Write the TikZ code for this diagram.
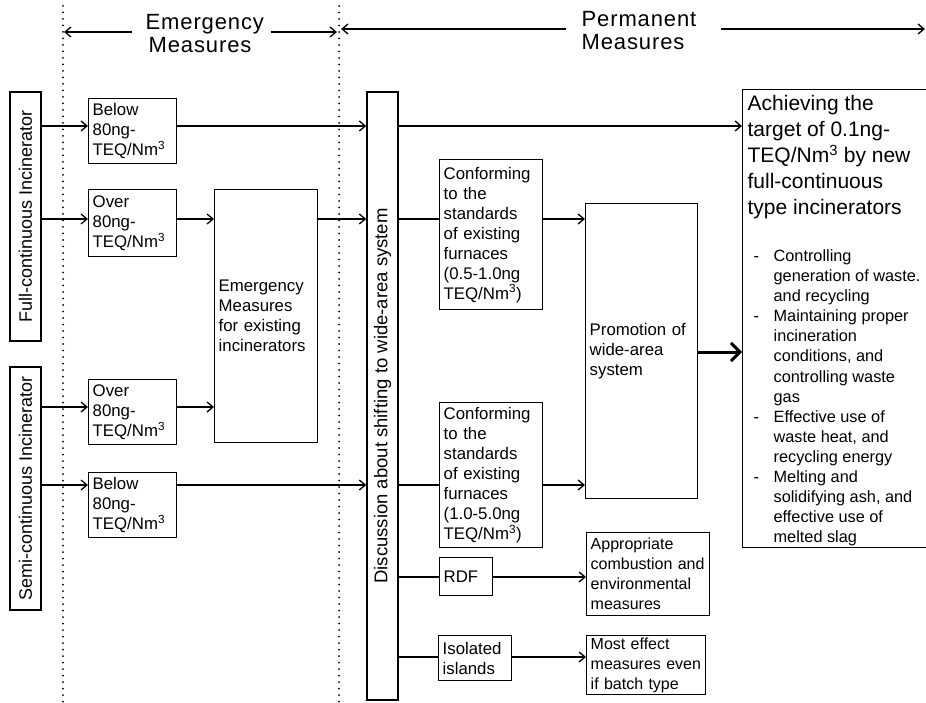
\documentclass[tikz,border=0pt]{standalone}
\usepackage{fontspec}
\setmainfont{Liberation Sans}
\newfontfamily\headfam[LetterSpace=4]{Liberation Sans}
\usetikzlibrary{arrows.meta}
\newcommand\myboxfont{\fontsize{16.8}{20}\selectfont}
\newcommand\mysmallboxfont{\fontsize{16}{20}\selectfont}
\newcommand\myrotfont{\fontsize{18}{21}\selectfont}
\newcommand\mydiscfont{\fontsize{18.5}{22}\selectfont}
\newcommand\myheadfont{\headfam\fontsize{22}{26}\selectfont}
\newcommand\mybigfont{\fontsize{21}{26}\selectfont}
\newcommand\mybulfont{\fontsize{16.3}{20.1}\selectfont}
\newcommand\sqm{TEQ/Nm\textsuperscript{3}}
\newcommand\dsh{\makebox[20pt][l]{-}}
\newcommand\ind{\hspace*{20pt}}
\begin{document}
\begin{tikzpicture}[x=1pt,y=-1pt,
  line width=1.3pt,
  box/.style={draw, line width=1.4pt, anchor=north west, inner xsep=4pt, inner ysep=2pt, align=left, font=\myboxfont},
  rbox/.style={draw, line width=1.4pt, rotate=90, inner sep=0pt, font=\myrotfont},
  arr/.style={-{Straight Barb[length=6pt,width=10pt]}},
  bigarr/.style={line width=3pt, -{Straight Barb[length=9pt,width=18pt]}},
  dots/.style={line width=2pt, line cap=round, dash pattern=on 0pt off 6.5pt},
  txt/.style={inner sep=0pt, anchor=base west}
]
\fill[white] (0,0) rectangle (926,703);
\useasboundingbox (0,0) rectangle (926,703);

% dotted separators
\coordinate (d1t) at (63,6); \coordinate (d1b) at (63,703);
\coordinate (d2t) at (339,6); \coordinate (d2b) at (339,703);
\draw[dots] (d1t) -- (d1b);
\draw[dots] (d2t) -- (d2b);

% headings
\node[txt, font=\myheadfont] (he1) at (145,30) {Emergency};
\node[txt, font=\myheadfont] (he2) at (148,53) {Measures};
\node[txt, font=\myheadfont] (hp1) at (581,27) {Permanent};
\node[txt, font=\myheadfont] (hp2) at (581,50) {Measures};
\coordinate (emL) at (64,32);
\coordinate (emR) at (337,32);
\coordinate (pmL) at (341,29);
\coordinate (pmR) at (925,29);
\draw[arr] ([xshift=-13pt]he1.west |- emL) -- (emL);
\draw[arr] ([xshift=6pt]he1.east |- emR) -- (emR);
\draw[arr] ([xshift=-15pt]hp1.west |- pmL) -- (pmL);
\draw[arr] ([xshift=24pt]hp1.east |- pmR) -- (pmR);

% left column
\node[rbox, minimum width=249pt, minimum height=31pt] (full) at (25.5,216.5) {Full-continuous Incinerator};
\node[rbox, minimum width=243pt, minimum height=31pt] (semi) at (25.5,488.5) {Semi-continuous Incinerator};

% emergency column
\node[box, minimum width=88pt, minimum height=65pt, text width=80pt] (b1) at (88,98) {Below\\80ng-\\\sqm};
\node[box, minimum width=88pt, minimum height=67pt, text width=80pt] (o1) at (88,189) {Over\\80ng-\\\sqm};
\node[box, minimum width=88pt, minimum height=65pt, text width=80pt] (o2) at (88,379) {Over\\80ng-\\\sqm};
\node[box, minimum width=88pt, minimum height=65pt, text width=80pt] (b2) at (88,472) {Below\\80ng-\\\sqm};
\node[box, minimum height=253pt, text width=95pt] (em) at (214,189) {Emergency\\Measures\\for existing\\incinerators};

% discussion
\node[draw, line width=1.4pt, rotate=90, font=\mydiscfont, minimum width=608pt, minimum height=31pt, inner sep=0pt] (disc) at (382.5,396) {Discussion about shifting to wide-area system};

% permanent column
\node[box, minimum height=150pt, text width=95pt] (c1) at (439,159) {Conforming\\to the\\standards\\of existing\\furnaces\\(0.5-1.0ng\\\sqm)};
\node[box, minimum height=145pt, text width=95pt] (c2) at (439,402) {Conforming\\to the\\standards\\of existing\\furnaces\\(1.0-5.0ng\\\sqm)};
\node[box, minimum height=38pt, text width=45pt] (rdf) at (439,557) {RDF};
\node[box, minimum height=45pt, text width=65pt] (isl) at (438,635) {Isolated\\islands};
\node[box, minimum height=295pt, text width=104pt] (prom) at (585,203) {Promotion of\\wide-area\\system};
\node[box, font=\mysmallboxfont, minimum height=83pt, text width=115pt] (appr) at (586,532) {Appropriate\\combustion and\\environmental\\measures};
\node[box, font=\mysmallboxfont, minimum height=55pt, text width=111pt] (most) at (586,635) {Most effect\\measures even\\if batch type};

% target box
\node[draw, line width=1.4pt, anchor=north west, minimum width=205pt, minimum height=458pt, inner sep=0pt] (ach) at (742,89) {};
\node[inner sep=0pt, anchor=north west, align=left, font=\mybigfont] (acht) at (747,95) {Achieving the\\target of 0.1ng-\\\sqm{} by new\\full-continuous\\type incinerators};
\node[inner sep=0pt, anchor=north west, align=left, font=\mybulfont] (achb) at (753,249) {\dsh Controlling\\
\ind generation of waste.\\
\ind and recycling\\
\dsh Maintaining proper\\
\ind incineration\\
\ind conditions, and\\
\ind controlling waste\\
\ind gas\\
\dsh Effective use of\\
\ind waste heat, and\\
\ind recycling energy\\
\dsh Melting and\\
\ind solidifying ash, and\\
\ind effective use of\\
\ind melted slag};

% connector levels
\coordinate (yA) at (0,126);
\coordinate (yB) at (0,219);
\coordinate (yC) at (0,407);
\coordinate (yD) at (0,485);
\coordinate (yE) at (0,577);
\coordinate (yF) at (0,657);
\coordinate (yG) at (0,352);

\draw[arr] (full.south |- yA) -- (b1.west |- yA);
\draw[arr] (full.south |- yB) -- (o1.west |- yB);
\draw[arr] (semi.south |- yC) -- (o2.west |- yC);
\draw[arr] (semi.south |- yD) -- (b2.west |- yD);
\draw[arr] (b1.east |- yA) -- (disc.north |- yA);
\draw[arr] (o1.east |- yB) -- (em.west |- yB);
\draw[arr] (o2.east |- yC) -- (em.west |- yC);
\draw[arr] (em.east |- yB) -- (disc.north |- yB);
\draw[arr] (b2.east |- yD) -- (disc.north |- yD);
\draw[arr] (disc.south |- yA) -- (ach.west |- yA);
\draw (disc.south |- yB) -- (c1.west |- yB);
\draw[arr] (c1.east |- yB) -- (prom.west |- yB);
\draw (disc.south |- yD) -- (c2.west |- yD);
\draw[arr] (c2.east |- yD) -- (prom.west |- yD);
\draw (disc.south |- yE) -- (rdf.west |- yE);
\draw[arr] (rdf.east |- yE) -- (appr.west |- yE);
\draw (disc.south |- yF) -- (isl.west |- yF);
\draw[arr] (isl.east |- yF) -- (most.west |- yF);
\draw[bigarr] (prom.east |- yG) -- (ach.west |- yG);
\end{tikzpicture}
\end{document}
